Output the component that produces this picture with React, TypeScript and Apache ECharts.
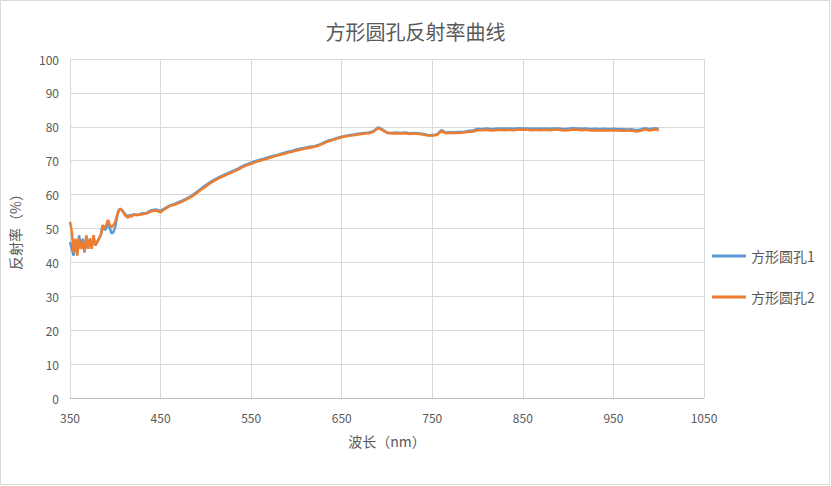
import React, { useEffect, useRef } from "react";
import * as echarts from "echarts";

const wavelengths: number[] = [
  350, 352, 354, 356, 358, 360, 362, 364, 366, 368, 370, 372, 374, 376, 378, 380,
  382, 384, 386, 388, 390, 392, 394, 396, 398, 400, 402, 404, 406, 408, 410, 412,
  414, 416, 418, 420,
  425, 430, 435, 440, 445, 450, 455, 460, 465, 470, 475, 480, 485, 490, 495, 500,
  505, 510, 515, 520, 525, 530, 535, 540, 545, 550, 555, 560, 565, 570, 575, 580,
  585, 590, 595, 600, 605, 610, 615, 620, 625, 630, 635, 640, 645, 650, 655, 660,
  665, 670, 675, 680, 685, 690, 695, 700, 705, 710, 715, 720, 725, 730, 735, 740,
  745, 750, 755, 760, 765, 770, 775, 780, 785, 790, 795, 800, 805, 810, 815, 820,
  825, 830, 835, 840, 845, 850, 855, 860, 865, 870, 875, 880, 885, 890, 895, 900,
  905, 910, 915, 920, 925, 930, 935, 940, 945, 950, 955, 960, 965, 970, 975, 980,
  985, 990, 995, 1000,
];

const hole1: number[] = [
  46, 44, 42, 46, 43, 48, 44, 47, 43, 47, 44, 47, 45, 47, 45, 46,
  47, 48, 51, 49.5, 50, 52, 50, 48.5, 49, 50.5, 53.5, 55.5, 55.8, 55.2, 54.5, 54,
  53.5, 54, 53.8, 54.2,
  54, 54.5, 54.6, 55.4, 55.6, 55.2, 56, 56.8, 57.2, 57.8, 58.4, 59, 59.8, 60.8, 61.8, 62.8,
  63.7, 64.5, 65.2, 65.8, 66.4, 67, 67.6, 68.3, 68.9, 69.4, 69.9, 70.3, 70.7, 71.1, 71.5, 71.8,
  72.2, 72.6, 72.9, 73.3, 73.6, 73.8, 74.1, 74.3, 74.7, 75.3, 75.9, 76.3, 76.7, 77.1, 77.4, 77.6,
  77.8, 78, 78.2, 78.3, 78.7, 79.8, 79.2, 78.3, 78.2, 78.3, 78.2, 78.3, 78.1, 78.2, 78.1, 77.9,
  77.6, 77.5, 77.7, 79, 78.3, 78.4, 78.4, 78.5, 78.5, 78.8, 78.9, 79.4, 79.3, 79.5, 79.3, 79.4,
  79.5, 79.4, 79.5, 79.4, 79.6, 79.5, 79.5, 79.4, 79.5, 79.4, 79.5, 79.4, 79.5, 79.5, 79.3, 79.4,
  79.6, 79.5, 79.4, 79.5, 79.3, 79.4, 79.3, 79.4, 79.3, 79.4, 79.3, 79.3, 79.2, 79.3, 79, 79.2,
  79.6, 79.3, 79.6, 79.4,
];

const hole2: number[] = [
  52, 49, 43, 47, 42, 47, 44, 46, 43, 48, 44, 47, 44, 48, 45, 46,
  47, 48, 51, 50, 51, 52.5, 51, 50.5, 51, 52, 54, 55.5, 55.8, 55.2, 54.2, 53.6,
  53.2, 53.8, 53.5, 54,
  54, 54.2, 54.5, 55.1, 55.3, 54.8, 55.8, 56.6, 57, 57.5, 58.1, 58.8, 59.5, 60.5, 61.5, 62.4,
  63.4, 64.2, 64.9, 65.5, 66.1, 66.7, 67.3, 68, 68.6, 69.1, 69.6, 70, 70.4, 70.8, 71.2, 71.6,
  71.9, 72.3, 72.6, 73, 73.3, 73.6, 73.8, 74.1, 74.5, 75.1, 75.7, 76.1, 76.5, 76.9, 77.2, 77.4,
  77.6, 77.8, 78, 78.1, 78.5, 79.6, 79, 78.2, 78, 78.1, 78, 78.1, 77.9, 78, 77.9, 77.7,
  77.4, 77.4, 77.6, 78.7, 78.1, 78.2, 78.2, 78.2, 78.3, 78.5, 78.6, 79, 79, 79.1, 78.9, 79,
  79.1, 79, 79.1, 79, 79.2, 79.1, 79.1, 79, 79.1, 79, 79.1, 79, 79.1, 79.1, 78.9, 79,
  79.2, 79.1, 79, 79.1, 78.9, 79, 78.9, 79, 78.9, 79, 78.9, 78.8, 78.8, 78.9, 78.6, 78.8,
  79.2, 78.9, 79.2, 79,
];

const seriesNames: string[] = ["方形圆孔1", "方形圆孔2"];
const titleText = "方形圆孔反射率曲线";
const xAxisName = "波长（nm）";
const yAxisName = "反射率（%）";

const FONT = "'Noto Sans CJK SC', 'Noto Sans', sans-serif";
const TEXT_COLOR = "#595959";

export default function App() {
  const ref = useRef<HTMLDivElement>(null);

  useEffect(() => {
    if (!ref.current) return;
    const chart = echarts.init(ref.current, undefined, { renderer: "svg" });
    const d1 = wavelengths.map((w, i) => [w, hole1[i]]);
    const d2 = wavelengths.map((w, i) => [w, hole2[i]]);
    chart.setOption({
      animation: false,
      backgroundColor: "#ffffff",
      textStyle: { fontFamily: FONT },
      title: {
        text: titleText,
        left: "center",
        top: 16,
        textStyle: { fontFamily: FONT, fontSize: 20, fontWeight: "normal", color: TEXT_COLOR },
      },
      graphic: [
        {
          type: "rect",
          shape: { x: 0.5, y: 0.5, width: 829, height: 484 },
          style: { fill: "none", stroke: "#D9D9D9", lineWidth: 1 },
          silent: true,
        },
      ],
      legend: {
        orient: "vertical",
        left: 707,
        top: 244,
        itemGap: 27,
        itemWidth: 34,
        itemHeight: 3,
        icon: "rect",
        data: seriesNames,
        textStyle: { fontFamily: FONT, fontSize: 14, color: TEXT_COLOR },
      },
      grid: { left: 68, top: 59, width: 636, height: 339 },
      xAxis: {
        type: "value",
        min: 350,
        max: 1050,
        interval: 100,
        name: xAxisName,
        nameLocation: "middle",
        nameGap: 36,
        nameTextStyle: { fontFamily: FONT, fontSize: 14, color: TEXT_COLOR },
        axisLine: { show: true, lineStyle: { color: "#BFBFBF", width: 1 } },
        axisTick: { show: false },
        axisLabel: {
          fontFamily: FONT,
          fontSize: 12,
          color: TEXT_COLOR,
          margin: 13,
          formatter: (v: number) => String(v),
        },
        splitLine: { show: true, lineStyle: { color: "#D9D9D9", width: 1 } },
      },
      yAxis: {
        type: "value",
        min: 0,
        max: 100,
        interval: 10,
        name: yAxisName,
        nameLocation: "middle",
        nameGap: 48,
        nameRotate: 90,
        nameTextStyle: { fontFamily: FONT, fontSize: 14, color: TEXT_COLOR },
        axisLine: { show: true, lineStyle: { color: "#D9D9D9", width: 1 } },
        axisTick: { show: false },
        axisLabel: { fontFamily: FONT, fontSize: 12, color: TEXT_COLOR, margin: 11 },
        splitLine: { show: true, lineStyle: { color: "#D9D9D9", width: 1 } },
      },
      series: [
        {
          name: seriesNames[0],
          type: "line",
          data: d1,
          showSymbol: false,
          symbol: "none",
          lineStyle: { color: "#5B9BD5", width: 2.5 },
          itemStyle: { color: "#5B9BD5" },
        },
        {
          name: seriesNames[1],
          type: "line",
          data: d2,
          showSymbol: false,
          symbol: "none",
          lineStyle: { color: "#ED7D31", width: 2.5 },
          itemStyle: { color: "#ED7D31" },
        },
      ],
    });
    return () => chart.dispose();
  }, []);

  return (
    <div
      ref={ref}
      style={{ position: "absolute", left: 0, top: 0, width: 831, height: 486 }}
    />
  );
}
